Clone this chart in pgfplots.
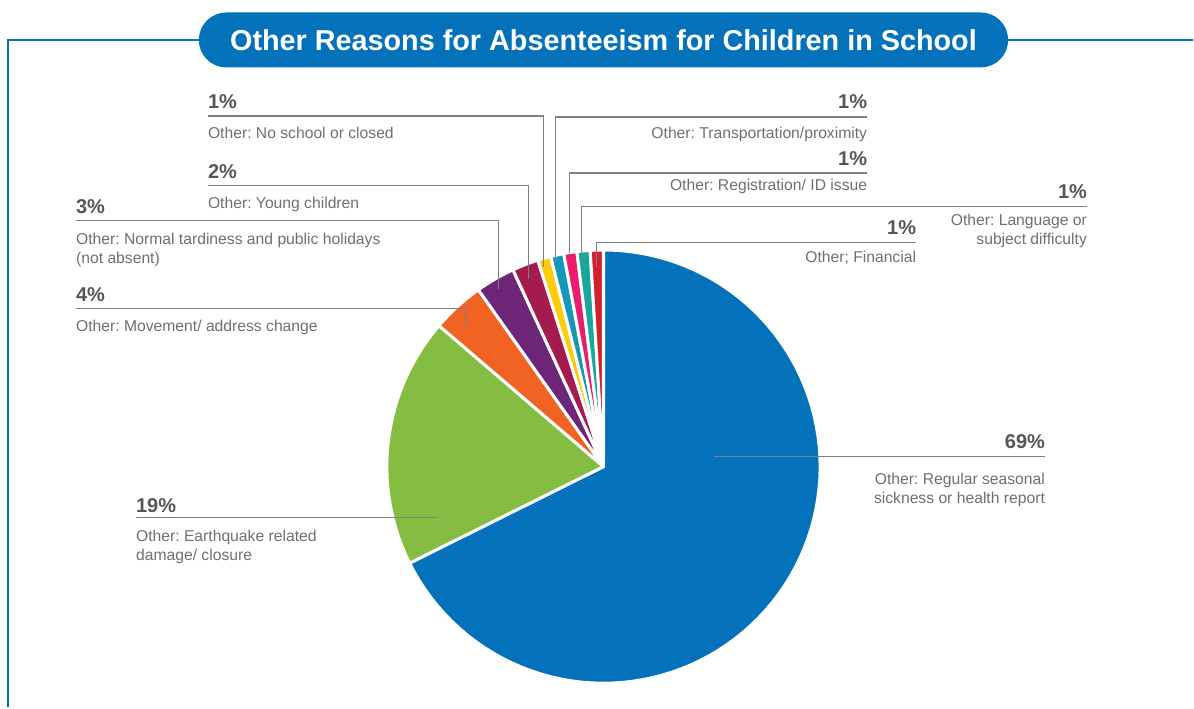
\documentclass[border=0pt]{standalone}
\usepackage{pgfplots}
\pgfplotsset{compat=1.18}
\usepackage{fontspec}
\setmainfont{Liberation Sans}
\frenchspacing
\definecolor{cblue}{RGB}{4,114,186}
\definecolor{cgreen}{RGB}{132,189,65}
\definecolor{corange}{RGB}{241,99,35}
\definecolor{cpurple}{RGB}{110,38,120}
\definecolor{ccrimson}{RGB}{164,27,78}
\definecolor{cyellow}{RGB}{255,204,10}
\definecolor{cteal}{RGB}{22,150,185}
\definecolor{cpink}{RGB}{234,28,110}
\definecolor{cturq}{RGB}{26,166,156}
\definecolor{cred}{RGB}{212,32,46}
\definecolor{pctgray}{RGB}{85,86,90}
\definecolor{txtgray}{RGB}{110,111,115}
\definecolor{lngray}{RGB}{128,128,128}
% slice: #1 cumulative percent before, #2 percent, #3 colour (total of shares = 102)
\newcommand{\slice}[3]{%
  \addplot[fill=#3, draw=white, line width=3pt, line join=round,
    domain={90-360*(#1+#2)/102}:{90-360*#1/102}, samples=90, variable=\t]
    ({604+216.8*cos(\t)},{467-216.8*sin(\t)}) -- (axis cs:604,467) -- cycle;}
\newcommand{\pct}[1]{{\fontsize{20}{24}\selectfont\bfseries\color{pctgray}#1}}
\newcommand{\dsc}[1]{{\fontsize{15.7}{19}\selectfont\color{txtgray}#1}}
\begin{document}
\begin{tikzpicture}
\begin{axis}[width=1194pt,height=708pt,scale only axis,
  xmin=0,xmax=1194,ymin=0,ymax=708,y dir=reverse,hide axis,clip=false]
\path (axis cs:0,0) rectangle (axis cs:1194,708);
% frame and title
\draw[cblue, line width=2pt] (axis cs:8,708) -- (axis cs:8,40) -- (axis cs:1194,40);
\node[fill=cblue, rounded corners=27.5pt, minimum width=810pt, minimum height=55pt,
  inner sep=0pt, text=white, font=\fontsize{28.8}{32}\selectfont\bfseries]
  at (axis cs:604,40) {Other Reasons for Absenteeism for Children in School};
% pie slices (clockwise from top)
\slice{0}{69}{cblue}
\slice{69}{19}{cgreen}
\slice{88}{4}{corange}
\slice{92}{3}{cpurple}
\slice{95}{2}{ccrimson}
\slice{97}{1}{cyellow}
\slice{98}{1}{cteal}
\slice{99}{1}{cpink}
\slice{100}{1}{cturq}
\slice{101}{1}{cred}
% leader lines
\begin{scope}[lngray, line width=1.3pt]
\draw (axis cs:208,116) -- (axis cs:544,116) -- (axis cs:544,267);
\draw (axis cs:208,186) -- (axis cs:529,186) -- (axis cs:529,279);
\draw (axis cs:76,221) -- (axis cs:499,221) -- (axis cs:499,289);
\draw (axis cs:76,309) -- (axis cs:466,309) -- (axis cs:466,326);
\draw (axis cs:868,117) -- (axis cs:556,117) -- (axis cs:556,261);
\draw (axis cs:868,173) -- (axis cs:570,173) -- (axis cs:570,253);
\draw (axis cs:1088,207) -- (axis cs:582,207) -- (axis cs:582,258);
\draw (axis cs:917,243) -- (axis cs:597,243) -- (axis cs:597,267);
\draw (axis cs:1046,457) -- (axis cs:715,457);
\draw (axis cs:136,518) -- (axis cs:437,518);
\end{scope}
% labels left
\node[anchor=base west, inner sep=0pt] at (axis cs:208,109) {\pct{1\%}};
\node[anchor=base west, inner sep=0pt] at (axis cs:208,139) {\dsc{Other: No school or closed}};
\node[anchor=base west, inner sep=0pt] at (axis cs:208,179) {\pct{2\%}};
\node[anchor=base west, inner sep=0pt] at (axis cs:208,209) {\dsc{Other: Young children}};
\node[anchor=base west, inner sep=0pt] at (axis cs:76,214) {\pct{3\%}};
\node[anchor=base west, inner sep=0pt] at (axis cs:76,245) {\dsc{Other: Normal tardiness and public holidays}};
\node[anchor=base west, inner sep=0pt] at (axis cs:76,264) {\dsc{(not absent)}};
\node[anchor=base west, inner sep=0pt] at (axis cs:76,302) {\pct{4\%}};
\node[anchor=base west, inner sep=0pt] at (axis cs:76,332) {\dsc{Other: Movement/ address change}};
\node[anchor=base west, inner sep=0pt] at (axis cs:136,513) {\pct{19\%}};
\node[anchor=base west, inner sep=0pt] at (axis cs:136,542) {\dsc{Other: Earthquake related}};
\node[anchor=base west, inner sep=0pt] at (axis cs:136,561) {\dsc{damage/ closure}};
% labels right
\node[anchor=base east, inner sep=0pt] at (axis cs:868,109) {\pct{1\%}};
\node[anchor=base east, inner sep=0pt] at (axis cs:868,139) {\dsc{Other: Transportation/proximity}};
\node[anchor=base east, inner sep=0pt] at (axis cs:868,166) {\pct{1\%}};
\node[anchor=base east, inner sep=0pt] at (axis cs:868,191) {\dsc{Other: Registration/ ID issue}};
\node[anchor=base east, inner sep=0pt] at (axis cs:1088,199) {\pct{1\%}};
\node[anchor=base east, inner sep=0pt] at (axis cs:1088,226) {\dsc{Other: Language or}};
\node[anchor=base east, inner sep=0pt] at (axis cs:1088,245) {\dsc{subject difficulty}};
\node[anchor=base east, inner sep=0pt] at (axis cs:917,235) {\pct{1\%}};
\node[anchor=base east, inner sep=0pt] at (axis cs:917,263) {\dsc{Other; Financial}};
\node[anchor=base east, inner sep=0pt] at (axis cs:1046,449) {\pct{69\%}};
\node[anchor=base east, inner sep=0pt] at (axis cs:1046,485) {\dsc{Other: Regular seasonal}};
\node[anchor=base east, inner sep=0pt] at (axis cs:1046,504) {\dsc{sickness or health report}};
\end{axis}
\end{tikzpicture}
\end{document}
